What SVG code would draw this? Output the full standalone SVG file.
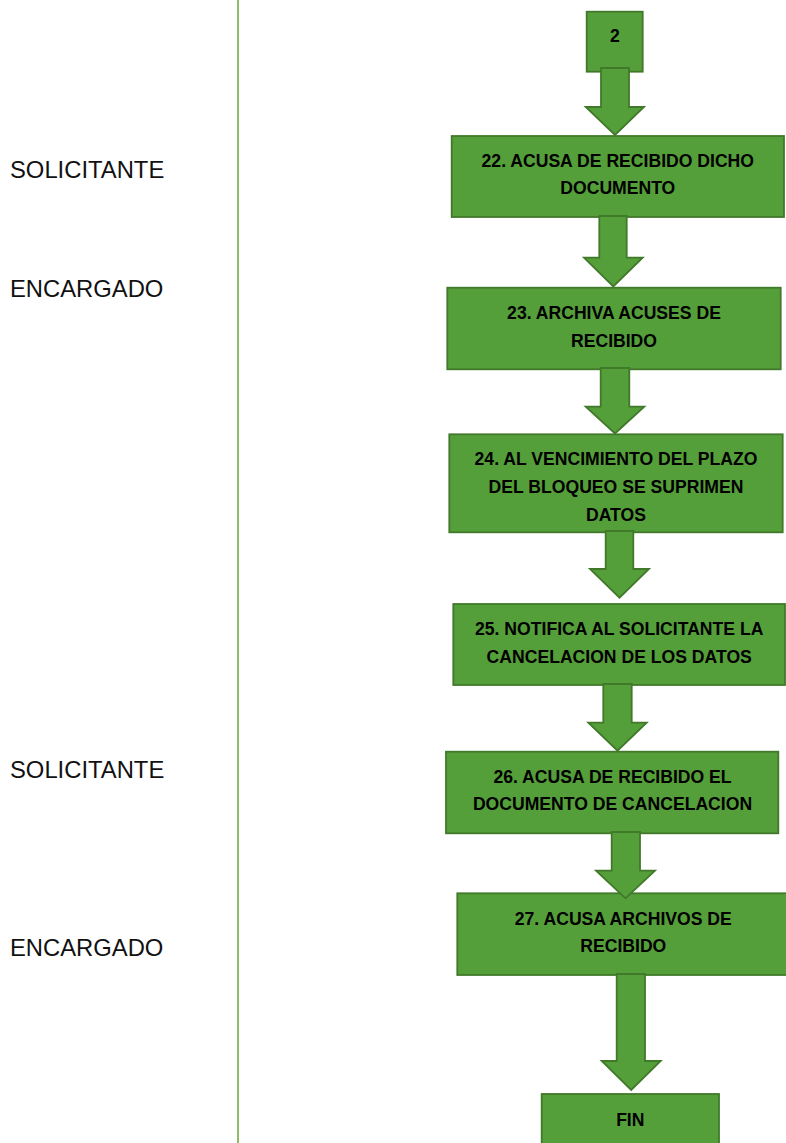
<svg xmlns="http://www.w3.org/2000/svg" width="786" height="1143" viewBox="0 0 786 1143">
<style>
.box{fill:#559F3A;stroke:#41792B;stroke-width:1.8}
.arr{fill:#559F3A;stroke:#41792B;stroke-width:1.8;stroke-linejoin:miter}
.t{font-family:"Liberation Sans",Arial,sans-serif;font-weight:bold;font-size:17.6px;fill:#000;text-anchor:middle}
.lab{font-family:"Liberation Sans",Arial,sans-serif;font-size:23.8px;fill:#111}
</style>
<rect width="786" height="1143" fill="#ffffff"/>
<line x1="238" y1="0" x2="238" y2="1143" stroke="#70AD47" stroke-width="1.6"/>
<g id="labels">
<text class="lab" x="10" y="177.7">SOLICITANTE</text>
<text class="lab" x="10" y="296.7">ENCARGADO</text>
<text class="lab" x="10" y="777.7">SOLICITANTE</text>
<text class="lab" x="10" y="956">ENCARGADO</text>
</g>
<g id="n2"><rect class="box" x="586.7" y="11.7" width="56" height="60"/><text class="t" x="615" y="42.3">2</text></g>
<g id="n22"><rect class="box" x="451.7" y="136" width="332.3" height="81"/><text class="t" x="617.8" y="166.7">22. ACUSA DE RECIBIDO DICHO</text><text class="t" x="617.8" y="194.3">DOCUMENTO</text></g>
<g id="n23"><rect class="box" x="447.3" y="287.7" width="333.4" height="81.6"/><text class="t" x="614" y="319.3">23. ARCHIVA ACUSES DE</text><text class="t" x="614" y="346.7">RECIBIDO</text></g>
<g id="n24"><rect class="box" x="449.3" y="434.3" width="333.4" height="98"/><text class="t" x="616" y="465">24. AL VENCIMIENTO DEL PLAZO</text><text class="t" x="616" y="493.3">DEL BLOQUEO SE SUPRIMEN</text><text class="t" x="616" y="520.7">DATOS</text></g>
<g id="n25"><rect class="box" x="453.3" y="604" width="331.7" height="81"/><text class="t" x="619.2" y="635">25. NOTIFICA AL SOLICITANTE LA</text><text class="t" x="619.2" y="663.3">CANCELACION DE LOS DATOS</text></g>
<g id="n26"><rect class="box" x="446" y="751.7" width="332.3" height="81.6"/><text class="t" x="612.5" y="783.3">26. ACUSA DE RECIBIDO EL</text><text class="t" x="612.5" y="810">DOCUMENTO DE CANCELACION</text></g>
<g id="n27"><rect class="box" x="457.3" y="893.3" width="332" height="81.7"/><text class="t" x="623.3" y="925">27. ACUSA ARCHIVOS DE</text><text class="t" x="623.3" y="951.7">RECIBIDO</text></g>
<g id="fin"><rect class="box" x="541.7" y="1094" width="177.3" height="60"/><text class="t" x="630.3" y="1125.7">FIN</text></g>
<g id="connectors">
<path class="arr" d="M601,68 H629 V107 H644 L615,135 L585.7,107 H601 Z"/>
<path class="arr" d="M599.3,216 H626.7 V257.7 H642.7 L613.3,286.5 L584,257.7 H599.3 Z"/>
<path class="arr" d="M600.7,368 H629.3 V406.7 H644.3 L615,433.5 L585.7,406.7 H600.7 Z"/>
<path class="arr" d="M605.7,531 H633.3 V569 H649 L619.5,597.7 L590,569 H605.7 Z"/>
<path class="arr" d="M603.3,684 H631.7 V722.7 H646.7 L617.5,750.7 L588.3,722.7 H603.3 Z"/>
<path class="arr" d="M611.7,832 H640 V870.7 H655 L625.5,898.3 L596,870.7 H611.7 Z"/>
<path class="arr" d="M616.7,974 H645 V1061 H660.7 L631.2,1090 L601.7,1061 H616.7 Z"/>
</g>
</svg>
